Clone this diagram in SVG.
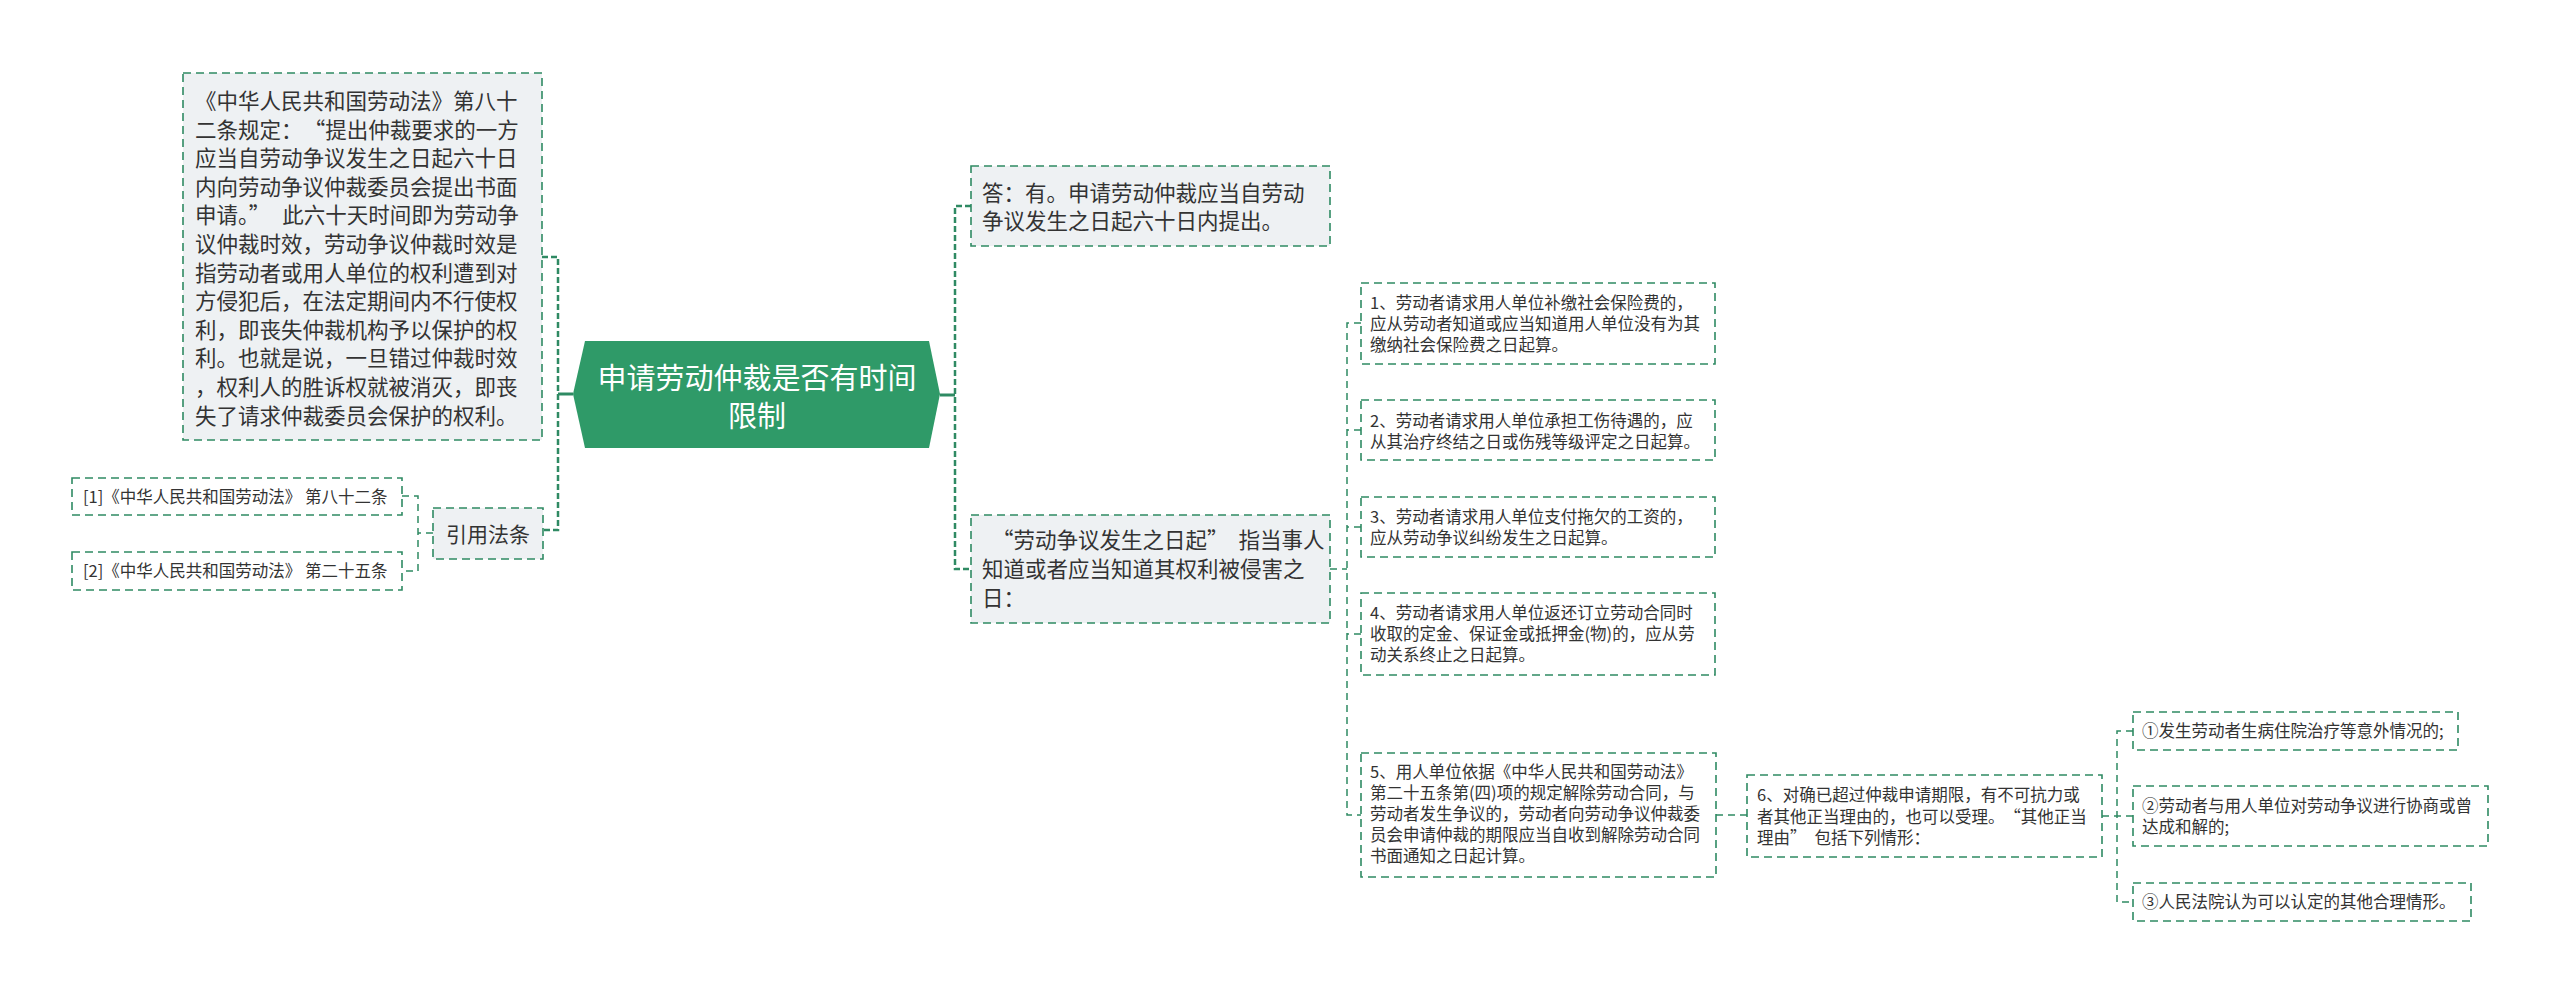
<svg xmlns="http://www.w3.org/2000/svg" width="2560" height="993" viewBox="0 0 2560 993">
<style>
text{font-family:"Noto Sans CJK SC","Microsoft YaHei",sans-serif;fill:#333333}
.box{stroke:#2f8a63;stroke-width:1.6;stroke-dasharray:8 5}
.gray{fill:#eef1f3}
.white{fill:#ffffff}
.f21{font-size:21.5px}
.f16{font-size:16.5px}
.bus{fill:none;stroke:#2f8a63;stroke-width:2.5;stroke-dasharray:6 3}
.sub{fill:none;stroke:#2f8a63;stroke-width:1.5;stroke-dasharray:7 5}
.solid{fill:none;stroke:#2f8a63;stroke-width:3}
</style>
<rect width="2560" height="993" fill="#ffffff"/>
<g id="connectors">
<path class="solid" d="M573 394H558"/>
<path class="bus" d="M542 257H558V530H543"/>
<path class="sub" d="M433 533H418M402 496H418V571H402"/>
<path class="solid" d="M940 395H955"/>
<path class="bus" d="M971 206H955V569H971"/>
<path class="sub" d="M1330 569H1347M1361 323H1347V815H1361M1361 430H1347M1361 527H1347M1361 634H1347"/>
<path class="sub" d="M1716 815H1747"/>
<path class="sub" d="M2102 816H2133M2133 731H2117V902H2133"/>
</g>
<g id="center">
<polygon points="585,341 929,341 940,394 929,448 585,448 573,394" fill="#2f9a68"/>
<text x="757" y="388.5" font-size="29" text-anchor="middle" style="fill:#ffffff">申请劳动仲裁是否有时间</text>
<text x="757" y="426.5" font-size="29" text-anchor="middle" style="fill:#ffffff">限制</text>
</g>
<g id="left-main">
<rect class="box gray" x="183" y="73" width="359" height="367"/>
<text class="f21" x="195" y="109">《中华人民共和国劳动法》第八十<tspan x="195" dy="28.6">二条规定：</tspan><tspan dx="12">“提出仲裁要求的一方</tspan><tspan x="195" dy="28.6">应当自劳动争议发生之日起六十日</tspan><tspan x="195" dy="28.6">内向劳动争议仲裁委员会提出书面</tspan><tspan x="195" dy="28.6">申请。”</tspan><tspan dx="12">此六十天时间即为劳动争</tspan><tspan x="195" dy="28.6">议仲裁时效，劳动争议仲裁时效是</tspan><tspan x="195" dy="28.6">指劳动者或用人单位的权利遭到对</tspan><tspan x="195" dy="28.6">方侵犯后，在法定期间内不行使权</tspan><tspan x="195" dy="28.6">利，即丧失仲裁机构予以保护的权</tspan><tspan x="195" dy="28.6">利。也就是说，一旦错过仲裁时效</tspan><tspan x="195" dy="28.6">，权利人的胜诉权就被消灭，即丧</tspan><tspan x="195" dy="28.6">失了请求仲裁委员会保护的权利。</tspan></text>
</g>
<g id="cite">
<rect class="box gray" x="433" y="508" width="110" height="51"/>
<text x="488" y="541.5" font-size="21" text-anchor="middle">引用法条</text>
</g>
<g id="cite-1">
<rect class="box white" x="72" y="478" width="330" height="37"/>
<text class="f16" x="83" y="502.8">[1]《中华人民共和国劳动法》 第八十二条</text>
</g>
<g id="cite-2">
<rect class="box white" x="72" y="552" width="330" height="38"/>
<text class="f16" x="83" y="577.3">[2]《中华人民共和国劳动法》 第二十五条</text>
</g>
<g id="answer">
<rect class="box gray" x="971" y="166" width="359" height="80"/>
<text class="f21" x="982" y="200.7">答：有。申请劳动仲裁应当自劳动<tspan x="982" dy="28.5">争议发生之日起六十日内提出。</tspan></text>
</g>
<g id="dispute-date">
<rect class="box gray" x="971" y="515" width="359" height="108"/>
<text class="f21" x="982" y="548"><tspan dx="10">“劳动争议发生之日起”</tspan><tspan dx="10">指当事人</tspan><tspan x="982" dy="29">知道或者应当知道其权利被侵害之</tspan><tspan x="982" dy="29">日：</tspan></text>
</g>
<g id="item-1">
<rect class="box white" x="1361" y="283" width="354" height="81"/>
<text class="f16" x="1370" y="309.3">1、劳动者请求用人单位补缴社会保险费的，<tspan x="1370" dy="21">应从劳动者知道或应当知道用人单位没有为其</tspan><tspan x="1370" dy="21">缴纳社会保险费之日起算。</tspan></text>
</g>
<g id="item-2">
<rect class="box white" x="1361" y="400" width="354" height="60"/>
<text class="f16" x="1370" y="427.3">2、劳动者请求用人单位承担工伤待遇的，应<tspan x="1370" dy="21">从其治疗终结之日或伤残等级评定之日起算。</tspan></text>
</g>
<g id="item-3">
<rect class="box white" x="1361" y="497" width="354" height="60"/>
<text class="f16" x="1370" y="523.3">3、劳动者请求用人单位支付拖欠的工资的，<tspan x="1370" dy="21">应从劳动争议纠纷发生之日起算。</tspan></text>
</g>
<g id="item-4">
<rect class="box white" x="1361" y="593" width="354" height="82"/>
<text class="f16" x="1370" y="619.3">4、劳动者请求用人单位返还订立劳动合同时<tspan x="1370" dy="21">收取的定金、保证金或抵押金(物)的，应从劳</tspan><tspan x="1370" dy="21">动关系终止之日起算。</tspan></text>
</g>
<g id="item-5">
<rect class="box white" x="1361" y="753" width="355" height="124"/>
<text class="f16" x="1370" y="778.3">5、用人单位依据《中华人民共和国劳动法》<tspan x="1370" dy="21">第二十五条第(四)项的规定解除劳动合同，与</tspan><tspan x="1370" dy="21">劳动者发生争议的，劳动者向劳动争议仲裁委</tspan><tspan x="1370" dy="21">员会申请仲裁的期限应当自收到解除劳动合同</tspan><tspan x="1370" dy="21">书面通知之日起计算。</tspan></text>
</g>
<g id="item-6">
<rect class="box white" x="1747" y="775" width="355" height="82"/>
<text class="f16" x="1757" y="801.3">6、对确已超过仲裁申请期限，有不可抗力或<tspan x="1757" dy="21.5">者其他正当理由的，也可以受理。</tspan><tspan dx="8">“其他正当</tspan><tspan x="1757" dy="21.5">理由”</tspan><tspan dx="8">包括下列情形：</tspan></text>
</g>
<g id="case-1">
<rect class="box white" x="2133" y="712" width="325" height="38"/>
<text class="f16" x="2142" y="737.3">①发生劳动者生病住院治疗等意外情况的;</text>
</g>
<g id="case-2">
<rect class="box white" x="2133" y="786" width="355" height="60"/>
<text class="f16" x="2142" y="811.8">②劳动者与用人单位对劳动争议进行协商或曾<tspan x="2142" dy="21">达成和解的;</tspan></text>
</g>
<g id="case-3">
<rect class="box white" x="2133" y="883" width="338" height="38"/>
<text class="f16" x="2142" y="908.3">③人民法院认为可以认定的其他合理情形。</text>
</g>
</svg>
